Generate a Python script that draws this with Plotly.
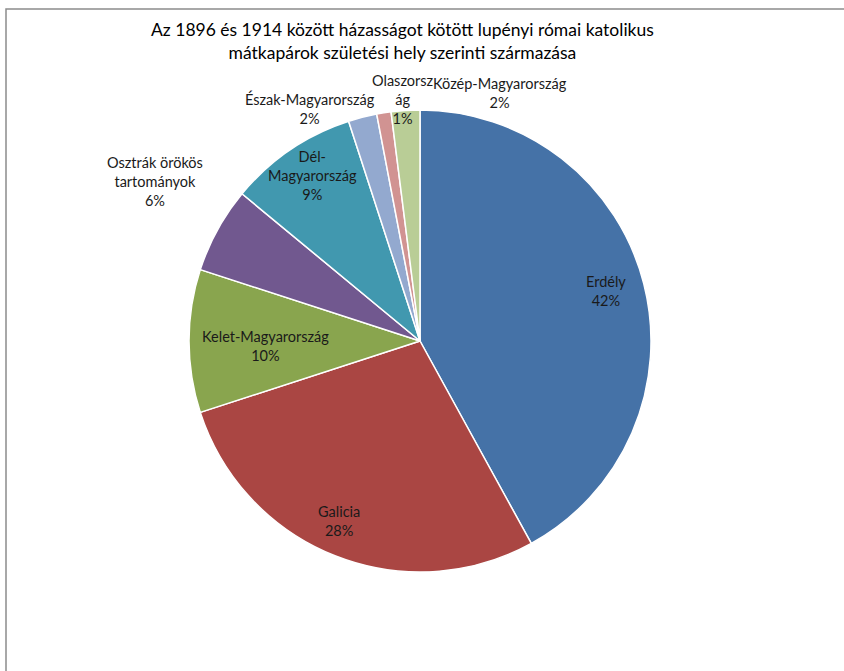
import math
import plotly.graph_objects as go

# Birthplace regions of the couples, clockwise from 12 o'clock
regions = ["Erdély", "Galicia", "Kelet-Magyarország", "Osztrák örökös tartományok",
           "Dél-Magyarország", "Észak-Magyarország", "Olaszország", "Közép-Magyarország"]
shares = [42, 28, 10, 6, 9, 2, 1, 2]

# Wrapped label text as shown next to each slice
label_text = ["Erdély", "Galicia", "Kelet-Magyarország", "Osztrák örökös<br>tartományok",
              "Dél-<br>Magyarország", "Észak-Magyarország", "Olaszorsz<br>ág", "Közép-Magyarország"]

colors = ["#4572A7", "#AA4643", "#89A54E", "#71588F",
          "#4198AF", "#93A9CF", "#D19392", "#B9CD96"]

W, H = 844, 671
CX, CY, R = 420, 341, 231  # pie centre and radius in pixels

# label placement: radius factor and pixel nudge per slice
label_rf = [0.83, 0.83, 0.67, 1.30, 0.85, 1.04, 1.06, 1.08]
label_nudge = [(0, -2), (-10, 2), (0, 5), (-2, -15), (3, -3), (-50, 0), (21, 0), (96, 1)]

fig = go.Figure(go.Pie(
    labels=regions,
    values=shares,
    sort=False,
    direction="clockwise",
    rotation=0,
    marker=dict(colors=colors, line=dict(color="white", width=1.5)),
    textinfo="none",
    hoverinfo="label+percent",
    showlegend=False,
    domain=dict(x=[(CX - R) / W, (CX + R) / W], y=[1 - (CY + R) / H, 1 - (CY - R) / H]),
))

total = sum(shares)
cum = 0.0
annotations = []
for name, v, rf, (nx, ny) in zip(label_text, shares, label_rf, label_nudge):
    mid = (cum + v / 2) / total * 2 * math.pi
    cum += v
    px = CX + rf * R * math.sin(mid) + nx
    py = CY - rf * R * math.cos(mid) + ny
    annotations.append(dict(
        x=px / W, y=1 - py / H, xref="paper", yref="paper",
        text=f"{name}<br>{v / total * 100:.0f}%",
        showarrow=False, align="center", xanchor="center", yanchor="middle",
        font=dict(family="Lato", size=14.5, color="#1a1a1a"),
    ))

annotations.append(dict(
    x=402 / W, y=1 - 40.5 / H, xref="paper", yref="paper",
    text="Az 1896 és 1914 között házasságot kötött lupényi római katolikus<br>"
         "mátkapárok születési hely szerinti származása",
    showarrow=False, align="center", xanchor="center", yanchor="middle",
    font=dict(family="Lato", size=17.5, color="#000000"),
))

fig.update_layout(
    width=W, height=H,
    margin=dict(l=0, r=0, t=0, b=0),
    paper_bgcolor="white",
    annotations=annotations,
    shapes=[dict(type="rect", xref="paper", yref="paper",
                 x0=6 / W, x1=1.02, y0=-0.02, y1=1 - 9 / H,
                 line=dict(color="#8c8c8c", width=1.5))],
)

fig.write_html("out.html")
